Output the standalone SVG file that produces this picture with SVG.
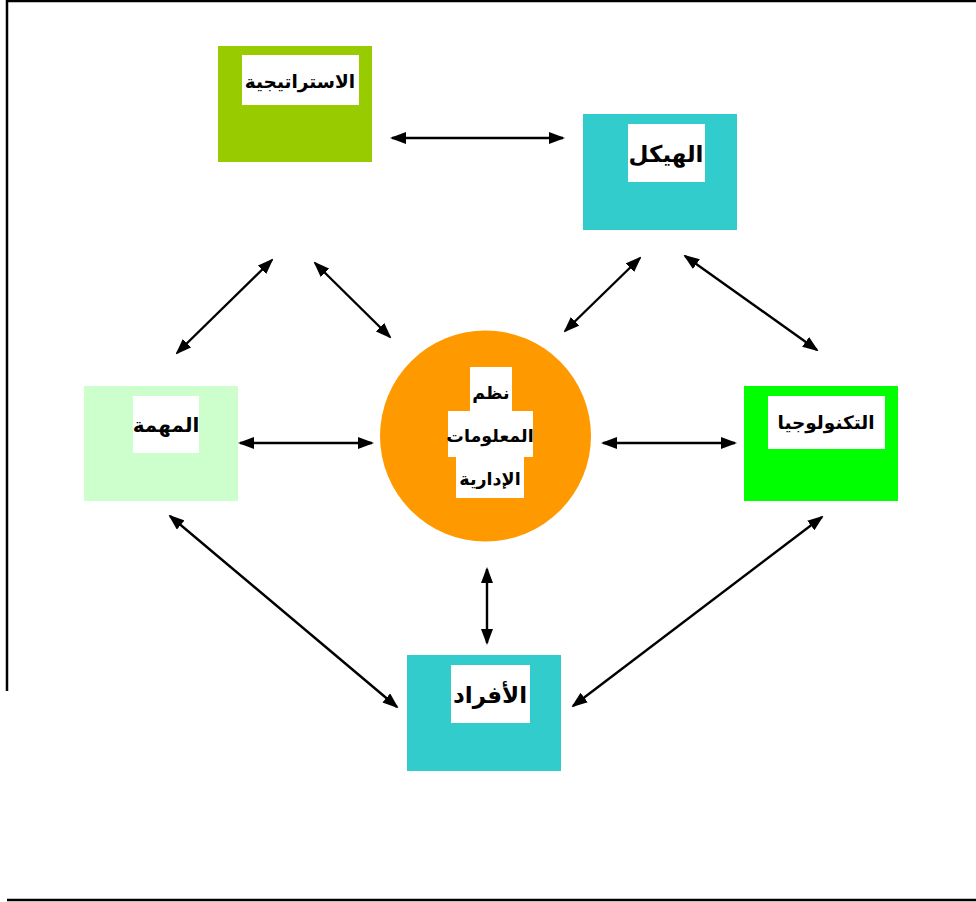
<svg xmlns="http://www.w3.org/2000/svg" width="976" height="902" viewBox="0 0 976 902">
  <style>
    .frame { stroke: #000; stroke-width: 2.5; fill: none; }
    .link { stroke: #000; stroke-width: 2.4; fill: none; marker-start: url(#head); marker-end: url(#head); }
    .tag { fill: #fff; }
    .lbl { font-family: "DejaVu Sans", "Noto Sans", sans-serif; font-weight: bold; font-size: 20px; fill: #000; text-anchor: middle; direction: rtl; }
    .small { font-size: 18.5px; }
    .inner { font-size: 17.5px; }
  </style>
  <defs>
    <marker id="head" viewBox="0 0 16 12" refX="14" refY="6" markerWidth="16" markerHeight="12" markerUnits="userSpaceOnUse" orient="auto-start-reverse">
      <path d="M0,0 L16,6 L0,12 Z" fill="#000"/>
    </marker>
  </defs>

  <rect width="976" height="902" fill="#fff"/>

  <!-- page frame -->
  <g id="frame">
    <line class="frame" x1="7" y1="1" x2="976" y2="1"/>
    <line class="frame" x1="7" y1="0" x2="7" y2="691"/>
    <line class="frame" x1="7" y1="900" x2="976" y2="900"/>
  </g>

  <!-- connectors -->
  <g id="connectors">
    <line class="link" x1="392" y1="138" x2="563" y2="138"/>
    <line class="link" x1="177" y1="353" x2="272" y2="260"/>
    <line class="link" x1="315" y1="263" x2="390" y2="337"/>
    <line class="link" x1="565" y1="331" x2="640" y2="258"/>
    <line class="link" x1="685" y1="256" x2="817" y2="350"/>
    <line class="link" x1="240" y1="443" x2="372" y2="443"/>
    <line class="link" x1="603" y1="443" x2="735" y2="443"/>
    <line class="link" x1="170" y1="516" x2="397" y2="707"/>
    <line class="link" x1="487" y1="569" x2="487" y2="643"/>
    <line class="link" x1="573" y1="706" x2="822" y2="517"/>
  </g>

  <g id="strategy">
    <rect x="218" y="46" width="154" height="116" fill="#99CC00"/>
    <rect class="tag" x="242" y="55" width="117" height="50"/>
    <text class="lbl small" x="300" y="88">الاستراتيجية</text>
  </g>

  <g id="structure">
    <rect x="583" y="114" width="154" height="116" fill="#33CCCC"/>
    <rect class="tag" x="628" y="124" width="77" height="58"/>
    <text class="lbl" x="666" y="162" style="font-size:23px">الهيكل</text>
  </g>

  <g id="task">
    <rect x="84" y="386" width="154" height="115" fill="#CCFFCC"/>
    <rect class="tag" x="133" y="396" width="66" height="57"/>
    <text class="lbl" x="166" y="432">المهمة</text>
  </g>

  <g id="technology">
    <rect x="744" y="386" width="154" height="115" fill="#00FF00"/>
    <rect class="tag" x="768" y="396" width="117" height="53"/>
    <text class="lbl small" x="826" y="429">التكنولوجيا</text>
  </g>

  <g id="people">
    <rect x="407" y="655" width="154" height="116" fill="#33CCCC"/>
    <rect class="tag" x="451" y="665" width="79" height="58"/>
    <text class="lbl" x="490" y="703" style="font-size:23px">الأفراد</text>
  </g>

  <g id="mis">
    <circle cx="485.5" cy="436" r="105.5" fill="#FF9900"/>
    <rect class="tag" x="470" y="367" width="42" height="44"/>
    <rect class="tag" x="448" y="411" width="85" height="46"/>
    <rect class="tag" x="456" y="457" width="68" height="41"/>
    <text class="lbl inner" x="491" y="399">نظم</text>
    <text class="lbl inner" x="490" y="442">المعلومات</text>
    <text class="lbl inner" x="490" y="485">الإدارية</text>
  </g>
</svg>
